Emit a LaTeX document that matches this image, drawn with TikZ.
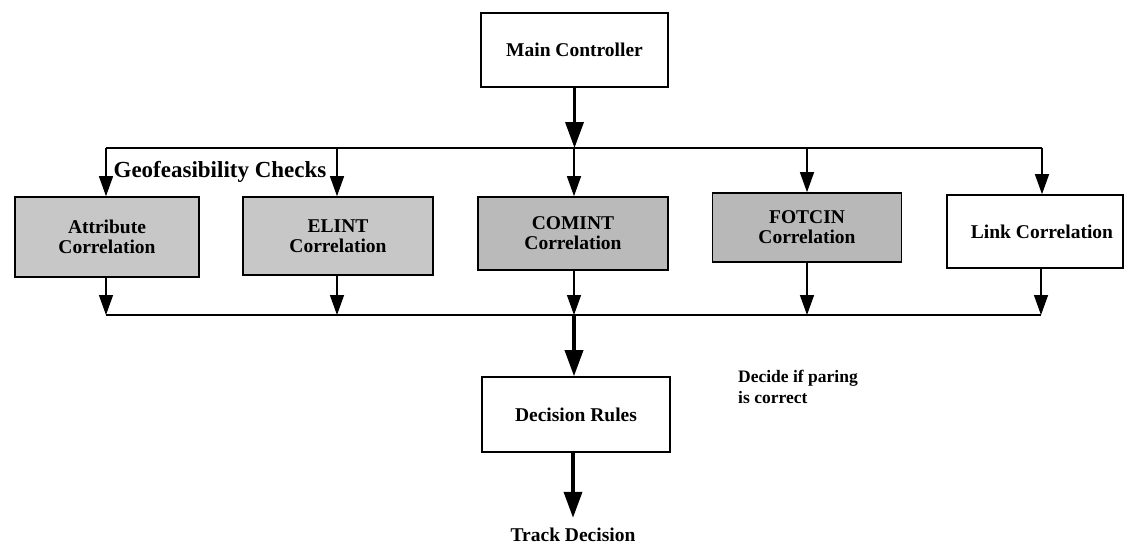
\documentclass[tikz,border=0pt]{standalone}
\usepackage{fontspec}
\setmainfont{Liberation Serif}
\usetikzlibrary{arrows.meta}
\begin{document}
\begin{tikzpicture}[x=1pt,y=-1pt,
  box/.style={draw=black,line width=1.6pt,align=center,inner sep=0pt,
    font=\fontsize{19.5}{20}\selectfont\bfseries},
  graybox/.style={box,fill=black!22},
  lbl/.style={inner sep=0pt,font=\fontsize{19.5}{20}\selectfont\bfseries},
  thin arr/.style={line width=1.4pt,-{Triangle[length=20pt,width=14pt]}},
  thick arr/.style={line width=3.6pt,-{Triangle[length=26pt,width=18pt]}},
  bus/.style={line width=1.4pt}]
\useasboundingbox (0,0) rectangle (1125,544);

\node[box,minimum width=187pt,minimum height=74pt] (mc) at (574.5,50) {Main Controller};

\node[graybox,minimum width=184pt,minimum height=80pt] (attr) at (107,237) {Attribute\\Correlation};
\node[graybox,minimum width=190pt,minimum height=78pt] (elint) at (338,236) {ELINT\\Correlation};
\node[graybox,fill=black!27,minimum width=190pt,minimum height=73pt] (comint) at (573,233.5) {COMINT\\Correlation};
\node[graybox,fill=black!28,minimum width=189pt,minimum height=69pt] (fotcin) at (807,227.5) {FOTCIN\\Correlation};
\node[box,minimum width=176pt,minimum height=73pt] (link) at (1035,231.5) {\hspace*{14pt}Link Correlation};

\node[box,minimum width=188pt,minimum height=75pt] (dr) at (576,414.5) {Decision Rules};
\node[lbl] (td) at (573,535) {Track Decision};
\node[lbl,font=\fontsize{17.5}{21}\selectfont\bfseries,align=left,anchor=north west] (dec) at (738,370) {Decide if paring\\is correct};

\node[inner sep=0pt,font=\fontsize{23}{24}\selectfont\bfseries] (geo) at (220,172) {Geofeasibility Checks};

\coordinate (tl) at (0,148);
\coordinate (bl) at (0,315);

% top bus
\draw[bus] ([xshift=-1pt]attr.north |- tl) -- ([xshift=7pt]link.north |- tl);
\draw[thick arr] (mc.south) -- (mc.south |- tl);
\draw[thin arr] ([xshift=-1pt]attr.north |- tl) -- ([xshift=-1pt]attr.north);
\draw[thin arr] ([xshift=-1pt]elint.north |- tl) -- ([xshift=-1pt]elint.north);
\draw[thin arr] ([xshift=1pt]comint.north |- tl) -- ([xshift=1pt]comint.north);
\draw[thin arr] (fotcin.north |- tl) -- (fotcin.north);
\draw[thin arr] ([xshift=7pt]link.north |- tl) -- ([xshift=7pt]link.north);

% bottom bus
\draw[bus] ([xshift=-1pt]attr.south |- bl) -- ([xshift=6pt]link.south |- bl);
\draw[thin arr] ([xshift=-1pt]attr.south) -- ([xshift=-1pt]attr.south |- bl);
\draw[thin arr] ([xshift=-1pt]elint.south) -- ([xshift=-1pt]elint.south |- bl);
\draw[thin arr] ([xshift=1pt]comint.south) -- ([xshift=1pt]comint.south |- bl);
\draw[thin arr] (fotcin.south) -- (fotcin.south |- bl);
\draw[thin arr] ([xshift=6pt]link.south) -- ([xshift=6pt]link.south |- bl);

\draw[thick arr] ([xshift=-2pt]dr.north |- bl) -- ([xshift=-2pt]dr.north);
\draw[thick arr] ([xshift=-3pt]dr.south) -- ([xshift=-3pt,yshift=-65pt]dr.south);
\end{tikzpicture}
\end{document}
